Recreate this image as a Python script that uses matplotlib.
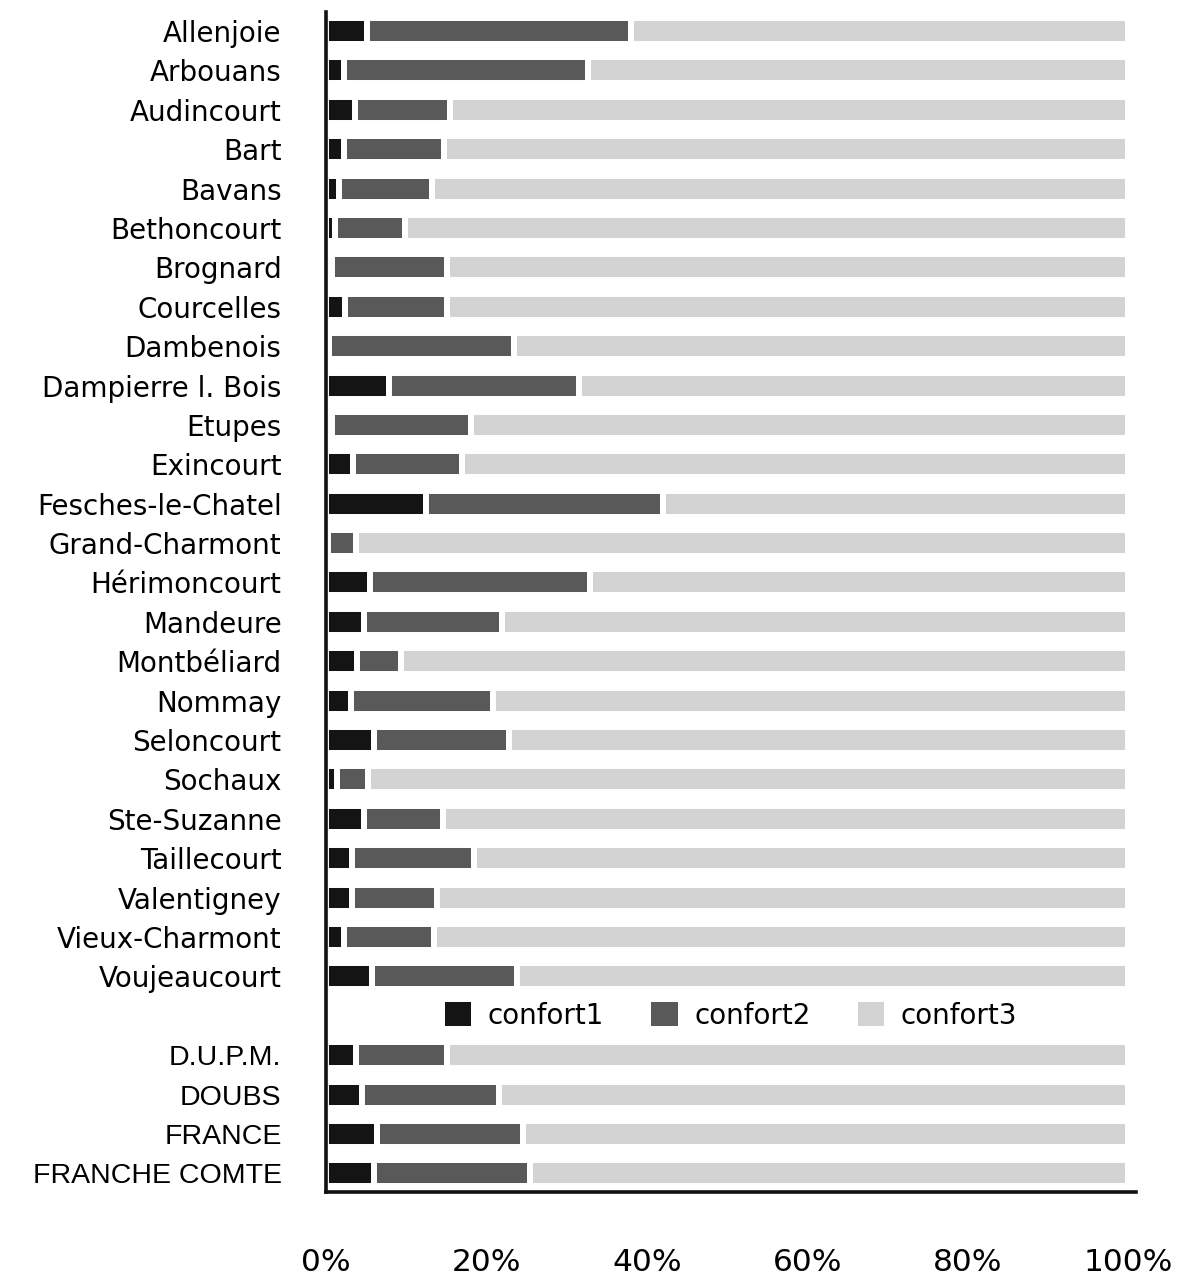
import matplotlib
matplotlib.use("Agg")
import matplotlib.pyplot as plt
import numpy as np

# communes of the agglomeration, then the reference areas
communes = ["Allenjoie", "Arbouans", "Audincourt", "Bart", "Bavans",
            "Bethoncourt", "Brognard", "Courcelles", "Dambenois",
            "Dampierre l. Bois", "Etupes", "Exincourt", "Fesches-le-Chatel",
            "Grand-Charmont", "Hérimoncourt", "Mandeure", "Montbéliard",
            "Nommay", "Seloncourt", "Sochaux", "Ste-Suzanne", "Taillecourt",
            "Valentigney", "Vieux-Charmont", "Voujeaucourt"]
areas = ["D.U.P.M.", "DOUBS", "FRANCE", "FRANCHE COMTE"]

# share of dwellings (%) per comfort level
confort1 = [5.1, 2.2, 3.6, 2.3, 1.6, 1.1, 0.7, 2.4, 0.4, 7.8, 0.8, 3.4, 12.5,
            0.2, 5.5, 4.7, 3.9, 3.1, 6.0, 1.4, 4.8, 3.2, 3.2, 2.3, 5.7,
            3.7, 4.5, 6.4, 6.0]
confort2 = [32.9, 30.5, 11.9, 12.4, 11.6, 8.7, 14.4, 12.7, 23.1, 23.8, 17.3,
            13.5, 29.5, 3.5, 27.4, 17.3, 5.4, 17.7, 16.8, 3.8, 9.8, 15.2,
            10.7, 11.2, 18.1,
            11.4, 17.1, 18.2, 19.4]
confort3 = [100 - a - b for a, b in zip(confort1, confort2)]

labels = communes + areas
ypos = list(range(len(communes))) + [len(communes) + 1 + i for i in range(len(areas))]

fig = plt.figure(figsize=(11.85, 12.79), dpi=100)
ax = fig.add_axes([326 / 1185, 87 / 1279, 810 / 1185, 1180 / 1279])

c1 = np.array(confort1)
c2 = np.array(confort2)
c3 = np.array(confort3)

h = 0.66
kw = dict(height=h, edgecolor="white", linewidth=4.3)
ax.barh(ypos, c1, color="#141414", label="confort1", **kw)
ax.barh(ypos, c2, left=c1, color="#595959", label="confort2", **kw)
ax.barh(ypos, c3, left=c1 + c2, color="#d3d3d3", label="confort3", **kw)

ax.set_xlim(0, 101)
ax.set_ylim(29.47, -0.48)

ax.set_yticks(ypos)
ax.set_yticklabels(labels)
ax.tick_params(axis="y", length=0, pad=32)
for t in ax.get_yticklabels():
    if t.get_text() in areas:
        t.set_fontfamily("Liberation Sans")
        t.set_fontsize(20.5)
    else:
        t.set_fontfamily("DejaVu Sans")
        t.set_fontsize(20)

ax.set_xticks([0, 20, 40, 60, 80, 100])
ax.set_xticklabels(["0%", "20%", "40%", "60%", "80%", "100%"],
                   fontsize=22.5, family="DejaVu Sans")
ax.tick_params(axis="x", length=0, pad=40)

for s in ["top", "right"]:
    ax.spines[s].set_visible(False)
for s in ["left", "bottom"]:
    ax.spines[s].set_linewidth(2.6)
    ax.spines[s].set_color("#111111")

leg = ax.legend(loc="center", bbox_to_anchor=(50.5, len(communes)),
                bbox_transform=ax.transData, ncol=3, frameon=False,
                prop={"family": "DejaVu Sans", "size": 20},
                handlelength=0.95, handleheight=0.95, handletextpad=0.6,
                columnspacing=1.7)
for p in leg.get_patches():
    p.set_linewidth(0)

fig.savefig("out.png", dpi=100, facecolor="white")
